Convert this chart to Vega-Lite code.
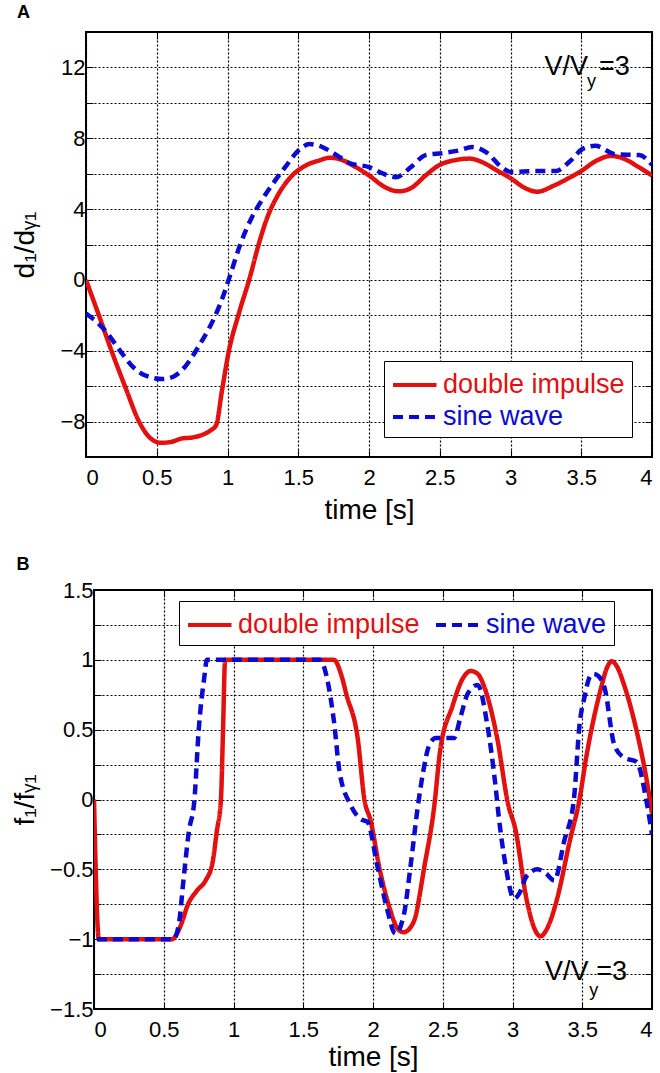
{
  "$schema": "https://vega.github.io/schema/vega-lite/v6.json",
  "background": "white",
  "padding": {"left": 2, "top": 2, "right": 2, "bottom": 0},
  "config": {
    "font": "Liberation Sans",
    "view": {"stroke": "black", "strokeWidth": 2},
    "axis": {
      "labelFont": "Liberation Sans", "labelFontSize": 22, "labelColor": "black",
      "titleFont": "Liberation Sans", "titleFontSize": 28, "titleFontWeight": "normal", "titleColor": "black",
      "gridColor": "black", "gridDash": [2, 2], "gridOpacity": 1, "gridWidth": 1.2,
      "domain": false, "tickColor": "black", "tickSize": -7, "tickWidth": 1, "labelPadding": 8
    },
    "axisX": {"labelPadding": 17, "titlePadding": 8},
    "axisY": {"titlePadding": 10},
    "legend": {
      "labelFont": "Liberation Sans", "labelFontSize": 27, "labelLimit": 400,
      "symbolType": "M-1,0H1.9", "symbolSize": 900, "symbolStrokeWidth": 4,
      "strokeColor": "black", "fillColor": "white", "padding": 7, "rowPadding": 2, "labelOffset": 18
    },
    "title": {"font": "Liberation Sans", "fontSize": 18, "fontWeight": "bold", "anchor": "start", "frame": "bounds", "offset": 10, "dx": 5, "color": "black"}
  },
  "datasets": {
    "a": [
      {"series": "double impulse", "time": 0, "value": 0},
      {"series": "double impulse", "time": 0.1, "value": -2.2},
      {"series": "double impulse", "time": 0.18, "value": -4},
      {"series": "double impulse", "time": 0.28, "value": -6.1},
      {"series": "double impulse", "time": 0.375, "value": -8},
      {"series": "double impulse", "time": 0.45, "value": -8.9},
      {"series": "double impulse", "time": 0.53, "value": -9.2},
      {"series": "double impulse", "time": 0.6, "value": -9.15},
      {"series": "double impulse", "time": 0.68, "value": -8.95},
      {"series": "double impulse", "time": 0.75, "value": -8.9},
      {"series": "double impulse", "time": 0.82, "value": -8.75},
      {"series": "double impulse", "time": 0.88, "value": -8.5},
      {"series": "double impulse", "time": 0.92, "value": -8.2},
      {"series": "double impulse", "time": 0.96, "value": -6.3},
      {"series": "double impulse", "time": 1.01, "value": -4},
      {"series": "double impulse", "time": 1.08, "value": -1.9},
      {"series": "double impulse", "time": 1.16, "value": 0.2},
      {"series": "double impulse", "time": 1.22, "value": 2.0},
      {"series": "double impulse", "time": 1.28, "value": 3.5},
      {"series": "double impulse", "time": 1.35, "value": 4.7},
      {"series": "double impulse", "time": 1.44, "value": 5.75},
      {"series": "double impulse", "time": 1.55, "value": 6.45},
      {"series": "double impulse", "time": 1.65, "value": 6.75},
      {"series": "double impulse", "time": 1.72, "value": 6.9},
      {"series": "double impulse", "time": 1.8, "value": 6.8},
      {"series": "double impulse", "time": 1.9, "value": 6.4},
      {"series": "double impulse", "time": 2.0, "value": 5.9},
      {"series": "double impulse", "time": 2.1, "value": 5.3},
      {"series": "double impulse", "time": 2.21, "value": 5.0},
      {"series": "double impulse", "time": 2.3, "value": 5.2},
      {"series": "double impulse", "time": 2.4, "value": 5.9},
      {"series": "double impulse", "time": 2.5, "value": 6.5},
      {"series": "double impulse", "time": 2.6, "value": 6.75},
      {"series": "double impulse", "time": 2.71, "value": 6.85},
      {"series": "double impulse", "time": 2.8, "value": 6.65},
      {"series": "double impulse", "time": 2.9, "value": 6.2},
      {"series": "double impulse", "time": 3.0, "value": 5.75},
      {"series": "double impulse", "time": 3.1, "value": 5.2},
      {"series": "double impulse", "time": 3.19, "value": 4.98},
      {"series": "double impulse", "time": 3.3, "value": 5.3},
      {"series": "double impulse", "time": 3.4, "value": 5.7},
      {"series": "double impulse", "time": 3.5, "value": 6.15},
      {"series": "double impulse", "time": 3.6, "value": 6.7},
      {"series": "double impulse", "time": 3.71, "value": 7.0},
      {"series": "double impulse", "time": 3.8, "value": 6.85},
      {"series": "double impulse", "time": 3.9, "value": 6.4},
      {"series": "double impulse", "time": 4.0, "value": 5.9},
      {"series": "sine wave", "time": 0, "value": -1.9},
      {"series": "sine wave", "time": 0.05, "value": -2.2},
      {"series": "sine wave", "time": 0.14, "value": -2.9},
      {"series": "sine wave", "time": 0.25, "value": -4.1},
      {"series": "sine wave", "time": 0.33, "value": -4.9},
      {"series": "sine wave", "time": 0.42, "value": -5.4},
      {"series": "sine wave", "time": 0.54, "value": -5.6},
      {"series": "sine wave", "time": 0.62, "value": -5.45},
      {"series": "sine wave", "time": 0.7, "value": -4.9},
      {"series": "sine wave", "time": 0.8, "value": -3.7},
      {"series": "sine wave", "time": 0.92, "value": -1.9},
      {"series": "sine wave", "time": 0.97, "value": -0.9},
      {"series": "sine wave", "time": 1.02, "value": 0.3},
      {"series": "sine wave", "time": 1.09, "value": 2.0},
      {"series": "sine wave", "time": 1.17, "value": 3.5},
      {"series": "sine wave", "time": 1.25, "value": 4.6},
      {"series": "sine wave", "time": 1.34, "value": 5.65},
      {"series": "sine wave", "time": 1.42, "value": 6.5},
      {"series": "sine wave", "time": 1.5, "value": 7.3},
      {"series": "sine wave", "time": 1.58, "value": 7.67},
      {"series": "sine wave", "time": 1.65, "value": 7.57},
      {"series": "sine wave", "time": 1.72, "value": 7.3},
      {"series": "sine wave", "time": 1.8, "value": 6.9},
      {"series": "sine wave", "time": 1.86, "value": 6.6},
      {"series": "sine wave", "time": 2.0, "value": 6.37},
      {"series": "sine wave", "time": 2.1, "value": 6.0},
      {"series": "sine wave", "time": 2.19, "value": 5.8},
      {"series": "sine wave", "time": 2.3, "value": 6.4},
      {"series": "sine wave", "time": 2.4, "value": 7.05},
      {"series": "sine wave", "time": 2.52, "value": 7.16},
      {"series": "sine wave", "time": 2.63, "value": 7.3},
      {"series": "sine wave", "time": 2.73, "value": 7.5},
      {"series": "sine wave", "time": 2.83, "value": 7.2},
      {"series": "sine wave", "time": 2.94, "value": 6.35},
      {"series": "sine wave", "time": 3.0, "value": 6.1},
      {"series": "sine wave", "time": 3.18, "value": 6.15},
      {"series": "sine wave", "time": 3.32, "value": 6.15},
      {"series": "sine wave", "time": 3.42, "value": 6.7},
      {"series": "sine wave", "time": 3.51, "value": 7.4},
      {"series": "sine wave", "time": 3.6, "value": 7.57},
      {"series": "sine wave", "time": 3.74, "value": 7.1},
      {"series": "sine wave", "time": 3.91, "value": 7.05},
      {"series": "sine wave", "time": 4.0, "value": 6.5}
    ],
    "b": [
      {"series": "double impulse", "time": 0, "value": 0},
      {"series": "double impulse", "time": 0.035, "value": -1},
      {"series": "double impulse", "time": 0.56, "value": -1},
      {"series": "double impulse", "time": 0.6, "value": -0.95},
      {"series": "double impulse", "time": 0.63, "value": -0.88},
      {"series": "double impulse", "time": 0.67, "value": -0.76},
      {"series": "double impulse", "time": 0.74, "value": -0.65},
      {"series": "double impulse", "time": 0.8, "value": -0.58},
      {"series": "double impulse", "time": 0.85, "value": -0.45},
      {"series": "double impulse", "time": 0.88, "value": -0.23},
      {"series": "double impulse", "time": 0.91, "value": 0},
      {"series": "double impulse", "time": 0.925, "value": 0.5},
      {"series": "double impulse", "time": 0.94, "value": 1},
      {"series": "double impulse", "time": 1.72, "value": 1},
      {"series": "double impulse", "time": 1.77, "value": 0.9},
      {"series": "double impulse", "time": 1.81, "value": 0.75},
      {"series": "double impulse", "time": 1.89, "value": 0.44},
      {"series": "double impulse", "time": 1.94, "value": -0.01},
      {"series": "double impulse", "time": 1.98, "value": -0.14},
      {"series": "double impulse", "time": 2.05, "value": -0.51},
      {"series": "double impulse", "time": 2.12, "value": -0.78},
      {"series": "double impulse", "time": 2.18, "value": -0.93},
      {"series": "double impulse", "time": 2.22, "value": -0.95},
      {"series": "double impulse", "time": 2.29, "value": -0.88},
      {"series": "double impulse", "time": 2.37, "value": -0.47},
      {"series": "double impulse", "time": 2.44, "value": -0.04},
      {"series": "double impulse", "time": 2.48, "value": 0.34},
      {"series": "double impulse", "time": 2.57, "value": 0.67},
      {"series": "double impulse", "time": 2.64, "value": 0.86},
      {"series": "double impulse", "time": 2.7, "value": 0.92},
      {"series": "double impulse", "time": 2.75, "value": 0.9},
      {"series": "double impulse", "time": 2.8, "value": 0.8},
      {"series": "double impulse", "time": 2.89, "value": 0.44},
      {"series": "double impulse", "time": 2.97, "value": -0.04},
      {"series": "double impulse", "time": 3.02, "value": -0.21},
      {"series": "double impulse", "time": 3.1, "value": -0.71},
      {"series": "double impulse", "time": 3.16, "value": -0.93},
      {"series": "double impulse", "time": 3.2, "value": -0.98},
      {"series": "double impulse", "time": 3.25, "value": -0.92},
      {"series": "double impulse", "time": 3.32, "value": -0.71},
      {"series": "double impulse", "time": 3.41, "value": -0.3},
      {"series": "double impulse", "time": 3.48, "value": 0},
      {"series": "double impulse", "time": 3.53, "value": 0.31},
      {"series": "double impulse", "time": 3.63, "value": 0.78},
      {"series": "double impulse", "time": 3.68, "value": 0.95},
      {"series": "double impulse", "time": 3.71, "value": 0.99},
      {"series": "double impulse", "time": 3.75, "value": 0.95},
      {"series": "double impulse", "time": 3.8, "value": 0.82},
      {"series": "double impulse", "time": 3.89, "value": 0.49},
      {"series": "double impulse", "time": 3.96, "value": 0.15},
      {"series": "double impulse", "time": 4.0, "value": -0.1},
      {"series": "sine wave", "time": 0.02, "value": -1},
      {"series": "sine wave", "time": 0.57, "value": -1},
      {"series": "sine wave", "time": 0.61, "value": -0.88},
      {"series": "sine wave", "time": 0.64, "value": -0.59},
      {"series": "sine wave", "time": 0.68, "value": -0.23},
      {"series": "sine wave", "time": 0.72, "value": 0},
      {"series": "sine wave", "time": 0.75, "value": 0.49},
      {"series": "sine wave", "time": 0.79, "value": 0.87},
      {"series": "sine wave", "time": 0.81, "value": 1},
      {"series": "sine wave", "time": 1.62, "value": 1},
      {"series": "sine wave", "time": 1.67, "value": 0.87},
      {"series": "sine wave", "time": 1.72, "value": 0.56},
      {"series": "sine wave", "time": 1.76, "value": 0.2},
      {"series": "sine wave", "time": 1.84, "value": -0.04},
      {"series": "sine wave", "time": 1.91, "value": -0.14},
      {"series": "sine wave", "time": 1.96, "value": -0.16},
      {"series": "sine wave", "time": 2.03, "value": -0.47},
      {"series": "sine wave", "time": 2.1, "value": -0.78},
      {"series": "sine wave", "time": 2.16, "value": -0.96},
      {"series": "sine wave", "time": 2.22, "value": -0.83},
      {"series": "sine wave", "time": 2.27, "value": -0.47},
      {"series": "sine wave", "time": 2.32, "value": -0.06},
      {"series": "sine wave", "time": 2.36, "value": 0.2},
      {"series": "sine wave", "time": 2.4, "value": 0.38},
      {"series": "sine wave", "time": 2.45, "value": 0.44},
      {"series": "sine wave", "time": 2.58, "value": 0.44},
      {"series": "sine wave", "time": 2.63, "value": 0.6},
      {"series": "sine wave", "time": 2.68, "value": 0.76},
      {"series": "sine wave", "time": 2.75, "value": 0.82},
      {"series": "sine wave", "time": 2.82, "value": 0.53},
      {"series": "sine wave", "time": 2.88, "value": 0.08},
      {"series": "sine wave", "time": 2.9, "value": -0.11},
      {"series": "sine wave", "time": 2.95, "value": -0.47},
      {"series": "sine wave", "time": 3.01, "value": -0.71},
      {"series": "sine wave", "time": 3.05, "value": -0.67},
      {"series": "sine wave", "time": 3.1, "value": -0.55},
      {"series": "sine wave", "time": 3.18, "value": -0.5},
      {"series": "sine wave", "time": 3.24, "value": -0.53},
      {"series": "sine wave", "time": 3.3, "value": -0.58},
      {"series": "sine wave", "time": 3.37, "value": -0.3},
      {"series": "sine wave", "time": 3.44, "value": 0},
      {"series": "sine wave", "time": 3.48, "value": 0.53},
      {"series": "sine wave", "time": 3.52, "value": 0.75},
      {"series": "sine wave", "time": 3.55, "value": 0.87},
      {"series": "sine wave", "time": 3.58, "value": 0.9},
      {"series": "sine wave", "time": 3.62, "value": 0.88},
      {"series": "sine wave", "time": 3.66, "value": 0.8},
      {"series": "sine wave", "time": 3.73, "value": 0.39},
      {"series": "sine wave", "time": 3.8, "value": 0.3},
      {"series": "sine wave", "time": 3.89, "value": 0.27},
      {"series": "sine wave", "time": 3.96, "value": -0.01},
      {"series": "sine wave", "time": 4.0, "value": -0.25}
    ]
  },
  "spacing": 30,
  "resolve": {"scale": {"color": "independent", "strokeDash": "independent"}},
  "vconcat": [
    {
      "spacing": 0,
      "resolve": {"scale": {"color": "independent", "strokeDash": "independent"}},
      "hconcat": [
        {"width": 8, "height": 1, "view": {"stroke": null}, "data": {"values": [{}]}, "mark": {"type": "text", "text": ""}},
        {
          "width": 566,
          "height": 425,
          "title": {"text": "A"},
          "layer": [
            {
              "data": {"name": "a"},
              "mark": {"type": "line", "strokeWidth": 4.5, "interpolate": "monotone", "clip": true},
              "encoding": {
                "x": {"field": "time", "type": "quantitative", "scale": {"domain": [0, 4], "nice": false},
                      "axis": {"title": "time [s]", "values": [0, 0.5, 1, 1.5, 2, 2.5, 3, 3.5, 4], "format": "~g"}},
                "y": {"field": "value", "type": "quantitative", "scale": {"domain": [-10, 14], "nice": false},
                      "axis": {"title": "d₁/dᵧ₁", "titlePadding": 20, "values": [-8, -6, -4, -2, 0, 2, 4, 6, 8, 10, 12], "labelExpr": "datum.value % 4 === 0 ? datum.label : ''"}},
                "color": {"field": "series", "type": "nominal",
                          "scale": {"domain": ["double impulse", "sine wave"], "range": ["#e31010", "#0a0ad2"]},
                          "legend": {"title": null, "orient": "bottom-right", "offset": 20,
                                     "labelColor": {"expr": "datum.value === 'double impulse' ? '#e31010' : '#0a0ad2'"}}},
                "strokeDash": {"field": "series", "type": "nominal",
                               "scale": {"domain": ["double impulse", "sine wave"], "range": [[1, 0], [10, 6]]},
                               "legend": {"title": null, "orient": "bottom-right", "offset": 20,
                                          "labelColor": {"expr": "datum.value === 'double impulse' ? '#e31010' : '#0a0ad2'"}}}
              }
            },
            {
              "data": {"values": [{}]},
              "mark": {"type": "text", "text": "V/V", "align": "left", "baseline": "middle", "fontSize": 27, "font": "Liberation Sans", "fill": "black"},
              "encoding": {
                "x": {"datum": 3.24, "type": "quantitative", "axis": {"orient": "top", "values": [0.5, 1, 1.5, 2, 2.5, 3, 3.5], "labels": false, "title": null, "grid": false}},
                "y": {"datum": 12, "type": "quantitative", "axis": {"orient": "right", "values": [-8, -6, -4, -2, 0, 2, 4, 6, 8, 10, 12], "labels": false, "title": null, "grid": false}}
              }
            },
            {
              "data": {"values": [{}]},
              "mark": {"type": "text", "text": "y", "align": "left", "baseline": "middle", "fontSize": 18, "font": "Liberation Sans", "fill": "black"},
              "encoding": {
                "x": {"datum": 3.54, "type": "quantitative", "axis": null},
                "y": {"datum": 11.15, "type": "quantitative", "axis": null}
              }
            },
            {
              "data": {"values": [{}]},
              "mark": {"type": "text", "text": "=3", "align": "left", "baseline": "middle", "fontSize": 27, "font": "Liberation Sans", "fill": "black"},
              "encoding": {
                "x": {"datum": 3.625, "type": "quantitative", "axis": null},
                "y": {"datum": 12, "type": "quantitative", "axis": null}
              }
            }
          ],
          "resolve": {"axis": {"x": "independent", "y": "independent"}}
        }
      ]
    },
    {
      "spacing": 0,
      "resolve": {"scale": {"color": "independent", "strokeDash": "independent"}},
      "hconcat": [
        {"width": 8, "height": 1, "view": {"stroke": null}, "data": {"values": [{}]}, "mark": {"type": "text", "text": ""}},
        {
          "width": 558,
          "height": 419,
          "title": {"text": "B", "offset": 5},
          "layer": [
            {
              "data": {"name": "b"},
              "mark": {"type": "line", "strokeWidth": 4.5, "interpolate": "monotone", "clip": true},
              "encoding": {
                "x": {"field": "time", "type": "quantitative", "scale": {"domain": [0, 4], "nice": false},
                      "axis": {"title": "time [s]", "titlePadding": 3, "values": [0, 0.5, 1, 1.5, 2, 2.5, 3, 3.5, 4], "format": "~g"}},
                "y": {"field": "value", "type": "quantitative", "scale": {"domain": [-1.5, 1.5], "nice": false},
                      "axis": {"title": "f₁/fᵧ₁", "values": [-1.5, -1.25, -1, -0.75, -0.5, -0.25, 0, 0.25, 0.5, 0.75, 1, 1.25, 1.5], "labelExpr": "datum.value % 0.5 === 0 ? format(datum.value, '~g') : ''"}},
                "color": {"field": "series", "type": "nominal",
                          "scale": {"domain": ["double impulse", "sine wave"], "range": ["#e31010", "#0a0ad2"]},
                          "legend": {"title": null, "orient": "none", "legendX": 85, "legendY": 11, "direction": "horizontal", "columns": 2, "columnPadding": 8,
                                     "labelColor": {"expr": "datum.value === 'double impulse' ? '#e31010' : '#0a0ad2'"}}},
                "strokeDash": {"field": "series", "type": "nominal",
                               "scale": {"domain": ["double impulse", "sine wave"], "range": [[1, 0], [10, 6]]},
                               "legend": {"title": null, "orient": "none", "legendX": 85, "legendY": 11, "direction": "horizontal", "columns": 2, "columnPadding": 8,
                                          "labelColor": {"expr": "datum.value === 'double impulse' ? '#e31010' : '#0a0ad2'"}}}
              }
            },
            {
              "data": {"values": [{}]},
              "mark": {"type": "text", "text": "V/V", "align": "left", "baseline": "middle", "fontSize": 27, "font": "Liberation Sans", "fill": "black"},
              "encoding": {
                "x": {"datum": 3.233, "type": "quantitative", "axis": {"orient": "top", "values": [0.5, 1, 1.5, 2, 2.5, 3, 3.5], "labels": false, "title": null, "grid": false}},
                "y": {"datum": -1.235, "type": "quantitative", "axis": {"orient": "right", "values": [-1.25, -1, -0.75, -0.5, -0.25, 0, 0.25, 0.5, 0.75, 1, 1.25], "labels": false, "title": null, "grid": false}}
              }
            },
            {
              "data": {"values": [{}]},
              "mark": {"type": "text", "text": "y", "align": "left", "baseline": "middle", "fontSize": 18, "font": "Liberation Sans", "fill": "black"},
              "encoding": {
                "x": {"datum": 3.55, "type": "quantitative", "axis": null},
                "y": {"datum": -1.37, "type": "quantitative", "axis": null}
              }
            },
            {
              "data": {"values": [{}]},
              "mark": {"type": "text", "text": "=3", "align": "left", "baseline": "middle", "fontSize": 27, "font": "Liberation Sans", "fill": "black"},
              "encoding": {
                "x": {"datum": 3.6, "type": "quantitative", "axis": null},
                "y": {"datum": -1.235, "type": "quantitative", "axis": null}
              }
            }
          ],
          "resolve": {"axis": {"x": "independent", "y": "independent"}}
        }
      ]
    }
  ]
}
